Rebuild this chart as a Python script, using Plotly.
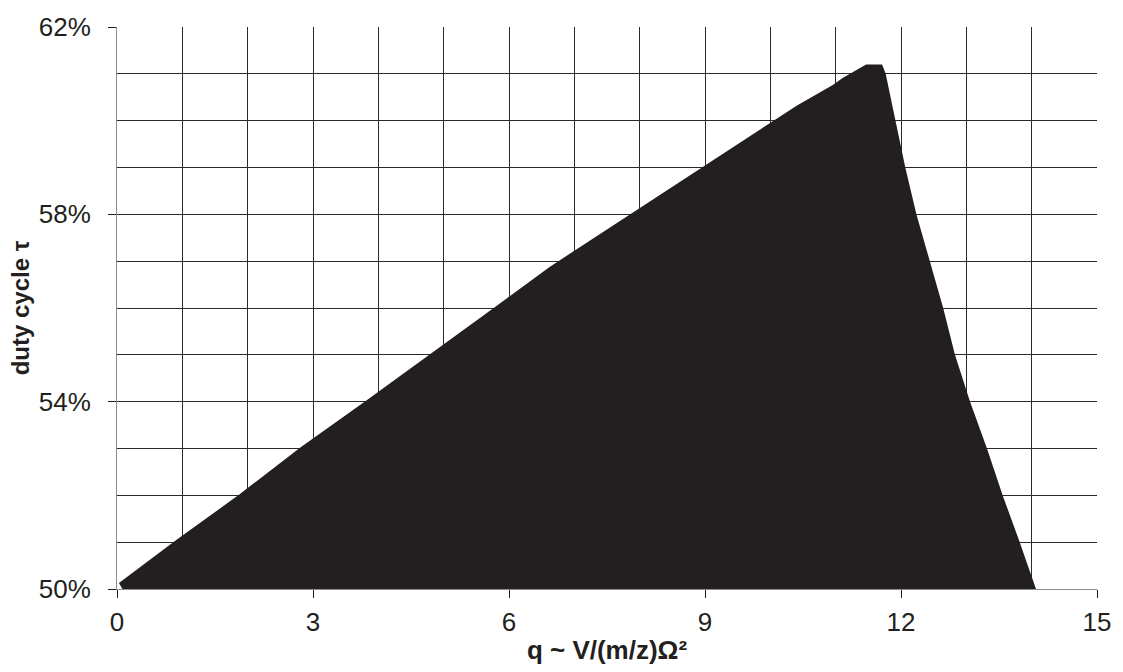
import plotly.graph_objects as go

# Stability region boundary (q, duty cycle in %)
q_left = [0.10, 0.05, 0.89, 1.88, 2.81, 3.82, 5.79, 6.63, 10.41, 10.76, 10.97, 11.12, 11.29, 11.47]
tau_left = [50.00, 50.12, 51.0, 52.0, 53.0, 54.0, 56.0, 56.86, 60.30, 60.58, 60.75, 60.90, 61.04, 61.18]

q_right = [11.70, 11.75, 11.90, 12.05, 12.22, 12.42, 12.63, 12.81, 13.04, 13.30, 13.54, 13.80, 14.05]
tau_right = [61.18, 61.0, 60.0, 59.0, 58.0, 57.0, 56.0, 55.0, 54.0, 53.0, 52.0, 51.0, 50.0]

x_ticks = [0, 3, 6, 9, 12, 15]
y_ticks = [50, 54, 58, 62]

poly_q = q_left + q_right
poly_tau = [t / 100 for t in tau_left + tau_right]

DARK = "#231f20"
GRID = "#2a2a2a"
AXIS = "#8c8c8c"
FONT = "Liberation Sans, Arial, sans-serif"

fig = go.Figure()
fig.add_trace(go.Scatter(
    x=poly_q + [poly_q[0]],
    y=poly_tau + [poly_tau[0]],
    mode="lines",
    fill="toself",
    fillcolor=DARK,
    line=dict(color=DARK, width=2),
    hoverinfo="skip",
    showlegend=False,
))

fig.update_layout(
    width=1123, height=672,
    margin=dict(l=117, r=21, t=23, b=83),
    paper_bgcolor="white", plot_bgcolor="white",
    font=dict(family=FONT, size=26, color="#231f20"),
    showlegend=False,
)
fig.update_xaxes(
    range=[0, 15],
    tickvals=x_ticks,
    ticktext=[str(v) for v in x_ticks],
    ticks="outside", ticklen=8, tickcolor=DARK, tickwidth=1,
    ticklabelstandoff=2,
    showline=True, linecolor=AXIS, linewidth=1,
    showgrid=True, gridcolor=GRID, gridwidth=1,
    minor=dict(dtick=1, showgrid=True, gridcolor=GRID, gridwidth=1, ticks=""),
    zeroline=False,
    tickfont=dict(size=26),
    title=dict(text="<b>q ~ V/(m/z)Ω²</b>", font=dict(size=26), standoff=4),
)
fig.update_yaxes(
    range=[0.50, 0.62],
    tickvals=[v / 100 for v in y_ticks],
    ticktext=[f"{v}%" for v in y_ticks],
    ticks="outside", ticklen=8, tickcolor=DARK, tickwidth=1,
    ticklabelstandoff=12,
    showline=True, linecolor=AXIS, linewidth=1,
    showgrid=True, gridcolor=GRID, gridwidth=1,
    minor=dict(dtick=0.01, tick0=0.5, showgrid=True, gridcolor=GRID, gridwidth=1, ticks=""),
    zeroline=False,
    tickfont=dict(size=26),
    title=dict(text="<b>duty cycle τ</b>", font=dict(size=24), standoff=2),
)

fig.write_html("out.html", config={"displayModeBar": False},
               post_script="document.body.style.margin='0';")
